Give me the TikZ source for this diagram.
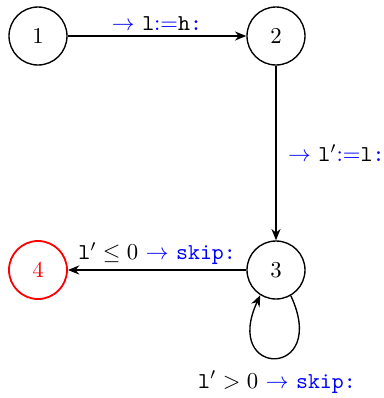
\documentclass[tikz,border=0pt]{standalone}
\usetikzlibrary{arrows.meta}
\newcommand\kwb[1]{\textcolor{blue}{#1}}
\begin{document}
\begin{tikzpicture}[x=0.44pt,y=0.44pt,
  state/.style={circle,draw,line width=0.6pt,minimum size=58*0.44pt,inner sep=0pt,font=\normalsize},
  conn/.style={-{Stealth[length=5pt,width=4pt]},line width=0.6pt},
  lbl/.style={inner sep=2pt}]
\useasboundingbox (0,0) rectangle (384,-398);
\node[state] (s1) at (38,-36) {1};
\node[state] (s2) at (276,-36) {2};
\node[state] (s3) at (276,-270) {3};
\node[state,draw=red,text=red,line width=0.8pt] (s4) at (38,-270) {4};
\draw[conn] (s1) -- node[lbl,above] {\kwb{$\rightarrow$} \texttt{l}\kwb{$:=$}\texttt{h}\kwb{\texttt{:}}} (s2);
\draw[conn] (s2) -- node[lbl,right,xshift=3pt] {\kwb{$\rightarrow$} \texttt{l}$'$\kwb{$:=$}\texttt{l}\kwb{\texttt{:}}} (s3);
\draw[conn] (s3) -- node[lbl,above] {$\texttt{l}'\leq 0$ \kwb{$\rightarrow$ \texttt{skip:}}} (s4);
\draw[conn] (s3.-60) .. controls +(-65:92) and +(-115:92) .. (s3.-122);
\node[lbl] (loopl) at (277,-382) {$\texttt{l}'>0$ \kwb{$\rightarrow$ \texttt{skip:}}};
\end{tikzpicture}
\end{document}
